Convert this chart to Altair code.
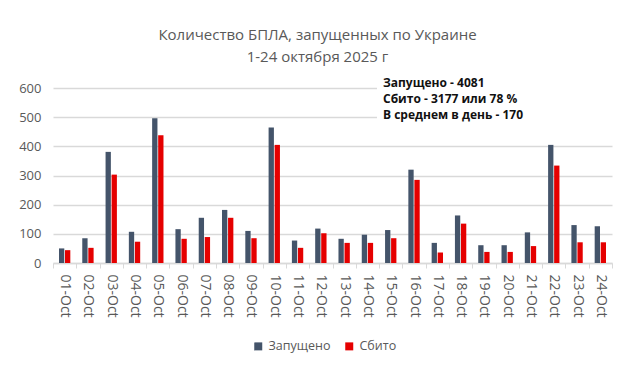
import altair as alt
import pandas as pd

dates = ["01-Oct", "02-Oct", "03-Oct", "04-Oct", "05-Oct", "06-Oct", "07-Oct", "08-Oct",
         "09-Oct", "10-Oct", "11-Oct", "12-Oct", "13-Oct", "14-Oct", "15-Oct", "16-Oct",
         "17-Oct", "18-Oct", "19-Oct", "20-Oct", "21-Oct", "22-Oct", "23-Oct", "24-Oct"]
launched = [50, 85, 381, 107, 496, 116, 155, 182, 110, 465, 77, 118,
            83, 97, 113, 320, 69, 163, 61, 61, 105, 405, 130, 126]
downed = [44, 52, 303, 73, 438, 83, 89, 155, 85, 405, 52, 102,
          69, 69, 85, 285, 36, 135, 38, 38, 58, 334, 71, 71]
series = ["Запущено", "Сбито"]
colors = ["#44546A", "#E50000"]
y_ticks = [0, 100, 200, 300, 400, 500, 600]
title_lines = ["Количество БПЛА, запущенных по Украине", "1-24 октября  2025 г"]
note_lines = ["Запущено - 4081", "Сбито - 3177 или 78 %", "В среднем в день - 170"]

rows = []
for d, a, b in zip(dates, launched, downed):
    rows.append({"date": d, "series": series[0], "value": a})
    rows.append({"date": d, "series": series[1], "value": b})
df = pd.DataFrame(rows)

FONT = "Open Sans"
GRAY = "#595959"
LIGHT = "#d9d9d9"

bars = alt.Chart(df).mark_bar().encode(
    x=alt.X("date:N", sort=dates, title=None,
            scale=alt.Scale(paddingInner=0, paddingOuter=0),
            axis=alt.Axis(labelAngle=90, tickBand="extent", labelFont=FONT,
                          labelFontSize=14, labelColor=GRAY, labelPadding=6,
                          tickSize=5, tickColor=LIGHT, domainColor=LIGHT,
                          domainWidth=1.5, grid=False)),
    xOffset=alt.XOffset("series:N", sort=series,
                        scale=alt.Scale(paddingInner=0.12, paddingOuter=0.99)),
    y=alt.Y("value:Q", title=None, scale=alt.Scale(domain=[0, 600], nice=False),
            axis=alt.Axis(values=y_ticks, ticks=False, domain=False, labelPadding=12,
                          labelFont=FONT, labelFontSize=13, labelColor=GRAY,
                          gridColor=LIGHT, gridWidth=1.5)),
    color=alt.Color("series:N", sort=series,
                    scale=alt.Scale(domain=series, range=colors),
                    legend=alt.Legend(title=None, orient="none", direction="horizontal",
                                      legendX=199, legendY=252, symbolType="square",
                                      symbolSize=64, symbolStrokeWidth=0,
                                      labelFont=FONT, labelFontSize=12.5, labelColor=GRAY,
                                      labelOffset=4, columnPadding=12)),
)

note_df = pd.DataFrame({"note": [note_lines]})

box = alt.Chart(note_df).mark_rect(color="white").encode(
    x=alt.value(324), x2=alt.value(560), y=alt.value(-1), y2=alt.value(34)
)

note = alt.Chart(note_df).mark_text(
    align="left", baseline="top", font=FONT, fontSize=12, fontWeight="bold",
    color="#111111", lineHeight=16
).encode(x=alt.value(330), y=alt.value(-10), text="note")

chart = alt.layer(box, bars, note).properties(
    width=559, height=175,
    padding={"left": 45, "top": 80, "right": 20, "bottom": 100},
    autosize=alt.AutoSizeParams(type="none"),
    title=alt.Title(title_lines, font=FONT, fontSize=15, fontWeight="normal",
                    color=GRAY, anchor="middle", frame="group", dx=-15,
                    offset=12, lineHeight=22),
    background="white",
).configure_view(stroke=None)

chart.save("out.html", embed_options={"renderer": "svg", "actions": False})
